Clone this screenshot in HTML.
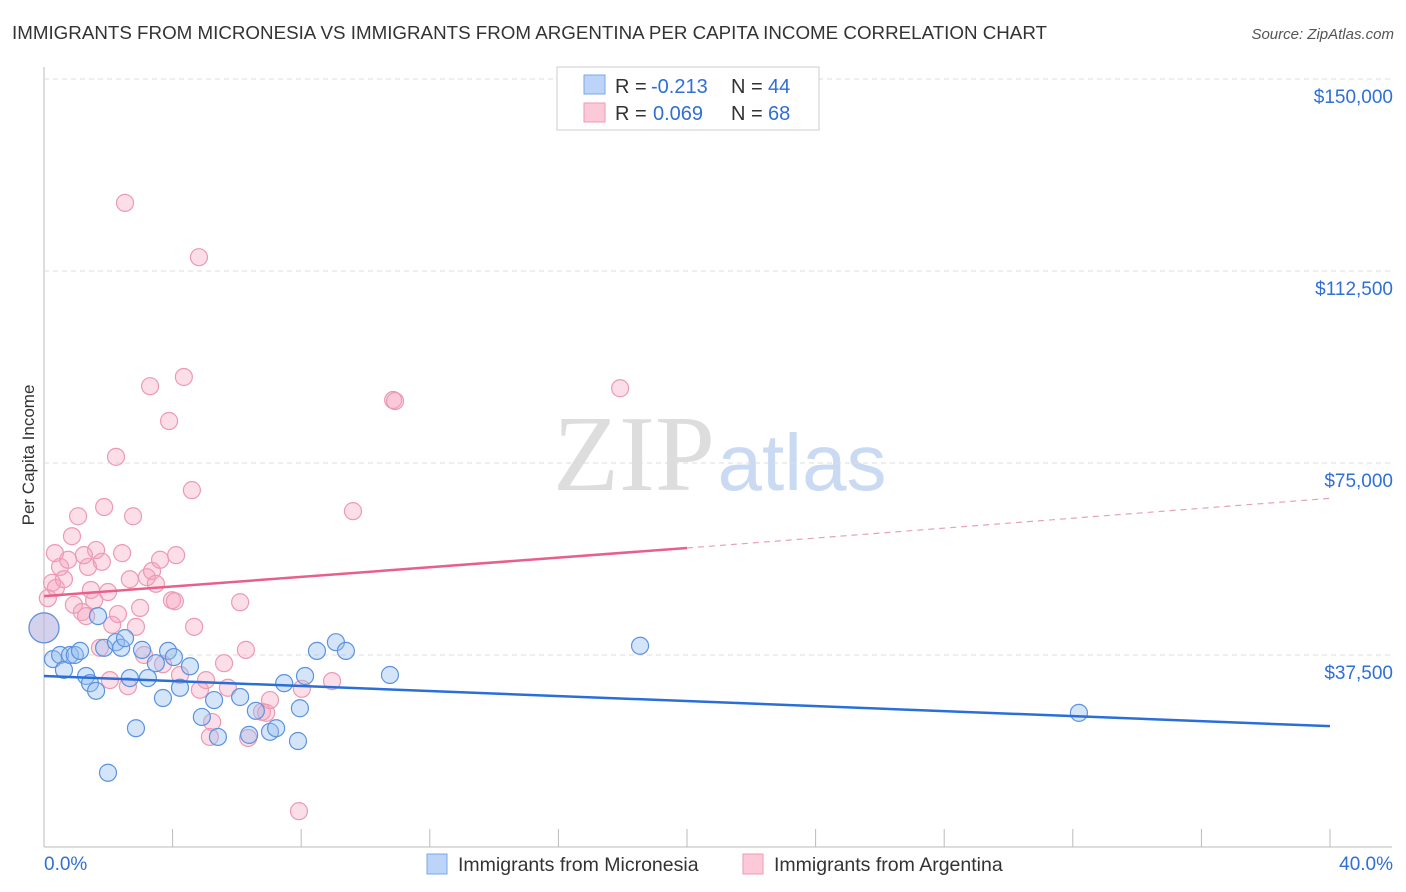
<!DOCTYPE html>
<html><head><meta charset="utf-8"><style>
body{margin:0;background:#fff;font-family:"Liberation Sans",sans-serif;}
svg{display:block}
</style></head><body>
<svg id="chart" width="1406" height="892" xmlns="http://www.w3.org/2000/svg">
<text x="12" y="39" font-size="18" fill="#333" textLength="1035" lengthAdjust="spacingAndGlyphs">IMMIGRANTS FROM MICRONESIA VS IMMIGRANTS FROM ARGENTINA PER CAPITA INCOME CORRELATION CHART</text>
<text x="1394" y="39" font-size="15" fill="#555" font-style="italic" text-anchor="end">Source: ZipAtlas.com</text>
<text x="634" y="490" font-size="108" fill="#ddd" font-family="Liberation Serif,serif" text-anchor="middle">ZIP</text>
<text x="802" y="490" font-size="80" fill="#c9daf2" text-anchor="middle">atlas</text>
<text transform="translate(34,455) rotate(-90)" font-size="17" fill="#333" text-anchor="middle">Per Capita Income</text>
<g id="grid"></g><g id="marks"></g>
<g>
<rect x="557" y="67" width="262" height="63" fill="#fff" stroke="#ccc"/>
<rect x="584" y="75" width="21" height="19" fill="#bcd4f7" stroke="#7aa7e8"/>
<rect x="584" y="103" width="21" height="19" fill="#fbc9d7" stroke="#ee9ab4"/>
<g font-size="20">
<text x="615" y="93" fill="#333">R =</text><text x="651" y="93" fill="#2f6fd6">-0.213</text>
<text x="731" y="93" fill="#333">N =</text><text x="768" y="93" fill="#2f6fd6">44</text>
<text x="615" y="120" fill="#333">R =</text><text x="653" y="120" fill="#2f6fd6">0.069</text>
<text x="731" y="120" fill="#333">N =</text><text x="768" y="120" fill="#2f6fd6">68</text>
</g>
</g>
<g>
<rect x="427" y="854" width="20" height="20" fill="#bcd4f7" stroke="#7aa7e8"/>
<text x="458" y="871" font-size="19.5" fill="#333">Immigrants from Micronesia</text>
<rect x="743" y="854" width="20" height="20" fill="#fbc9d7" stroke="#ee9ab4"/>
<text x="774" y="871" font-size="19.5" fill="#333">Immigrants from Argentina</text>
</g>
</svg>
<script>
const blueX=[0.28,0.5,0.62,0.81,0.96,1.12,1.31,1.43,1.62,1.68,1.87,1.99,2.24,2.40,2.52,2.67,2.86,3.05,3.23,3.48,3.70,3.86,4.04,4.23,4.54,4.91,5.29,5.41,6.10,6.38,6.59,7.03,7.22,7.47,7.96,7.90,8.12,8.49,9.08,9.39,10.76,18.54,32.19,0];
const blueY=[36.7,37.5,34.6,37.5,37.5,38.3,33.4,32.0,30.5,45.1,38.9,14.5,40.0,38.9,40.8,33.0,23.2,38.5,33.0,35.9,29.1,38.3,37.1,31.1,35.3,25.4,28.7,21.5,29.3,21.9,26.6,22.5,23.2,32.0,27.1,20.7,33.4,38.3,40.0,38.3,33.6,39.3,26.2,42.8];
const pinkX=[0,0.12,0.25,0.37,0.5,0.62,0.75,0.87,0.93,1.06,1.18,1.31,1.37,1.46,1.56,1.62,1.74,1.80,1.87,1.99,2.05,2.12,2.24,2.30,2.43,2.52,2.61,2.67,2.77,2.86,2.99,3.11,3.20,3.30,3.36,3.48,3.61,3.70,3.89,3.98,4.07,4.11,4.23,4.35,4.60,4.67,4.82,4.85,5.04,5.16,5.23,5.60,5.72,6.10,6.28,6.35,6.78,6.91,7.03,7.93,8.02,8.96,9.61,10.86,10.92,17.92,0.34,1.24];
const pinkY=[42.8,48.6,51.6,50.6,54.7,52.3,56.1,60.7,47.3,64.6,45.9,45.1,54.7,50.2,48.2,58.0,38.9,55.7,66.4,49.8,32.6,43.4,76.2,45.5,57.4,125.8,31.4,52.3,64.6,43.0,46.7,37.5,52.7,90.0,53.9,51.4,56.1,35.7,83.2,48.2,48.0,57.0,33.6,91.8,69.7,43.0,115.2,30.7,32.6,21.5,24.4,35.9,31.1,47.8,38.5,21.3,26.4,26.2,28.7,7.0,30.9,32.4,65.6,87.3,87.1,89.6,57.4,57.0];
const blueTrend=[33.4,23.6];
const pinkTrend=[49.0,58.4,68.1];
const yTicks=[37.5,75,112.5,150];
const yTickLabels=["$37,500","$75,000","$112,500","$150,000"];
const xTicks=[0,4,8,12,16,20,24,28,32,36,40];

const NS="http://www.w3.org/2000/svg";
const xs=v=>44+v*32.15;
const ys=v=>847-v*5.12;
function mk(tag,attrs,parent){const e=document.createElementNS(NS,tag);for(const k in attrs)e.setAttribute(k,attrs[k]);parent.appendChild(e);return e;}
const grid=document.getElementById('grid'),marks=document.getElementById('marks');
const ax=mk('line',{x1:44,y1:67,x2:44,y2:847,stroke:'#bbb'},grid);


const bx=mk('line',{x1:44,y1:847,x2:1392,y2:847,stroke:'#bbb'},grid);


yTicks.forEach((t,i)=>{
 const g=mk('line',{x1:44,y1:ys(t),x2:1392,y2:ys(t),stroke:'#ddd','stroke-dasharray':'5,4'},grid);
 
 
 const l=mk('text',{x:1393,y:ys(t)+24,'font-size':19,fill:'#2f6fd6','text-anchor':'end'},grid);
 l.textContent=yTickLabels[i];
 
 
});
xTicks.forEach(t=>{
 const k=mk('line',{x1:xs(t),y1:829,x2:xs(t),y2:847,stroke:'#bbb'},grid);
 
 
});
const xl0=mk('text',{x:44,y:870,'font-size':19,fill:'#2f6fd6'},grid);xl0.textContent='0.0%';


const xl1=mk('text',{x:1393,y:870,'font-size':19,fill:'#2f6fd6','text-anchor':'end'},grid);xl1.textContent='40.0%';



pinkX.forEach((x,i)=>{
 const c=mk('circle',{cx:xs(x),cy:ys(pinkY[i]),r:x===0?15:8.5,fill:'rgba(246,160,188,0.35)',stroke:'#ec9ab4','stroke-width':1.2},marks);
 
 
});
blueX.forEach((x,i)=>{
 const c=mk('circle',{cx:xs(x),cy:ys(blueY[i]),r:x===0?15:8.5,fill:'rgba(150,190,240,0.4)',stroke:'#5b93e0','stroke-width':1.2},marks);
 
 
});
const bl=mk('line',{x1:xs(0),y1:ys(blueTrend[0]),x2:xs(40),y2:ys(blueTrend[1]),stroke:'#2a6fd8','stroke-width':2.5},marks);


const pl=mk('line',{x1:xs(0),y1:ys(pinkTrend[0]),x2:xs(20),y2:ys(pinkTrend[1]),stroke:'#e8608a','stroke-width':2.5},marks);


const pd=mk('line',{x1:xs(20),y1:ys(pinkTrend[1]),x2:xs(40),y2:ys(pinkTrend[2]),stroke:'#e8a0b8','stroke-width':1.2,'stroke-dasharray':'6,5'},marks);


</script>
</body></html>
